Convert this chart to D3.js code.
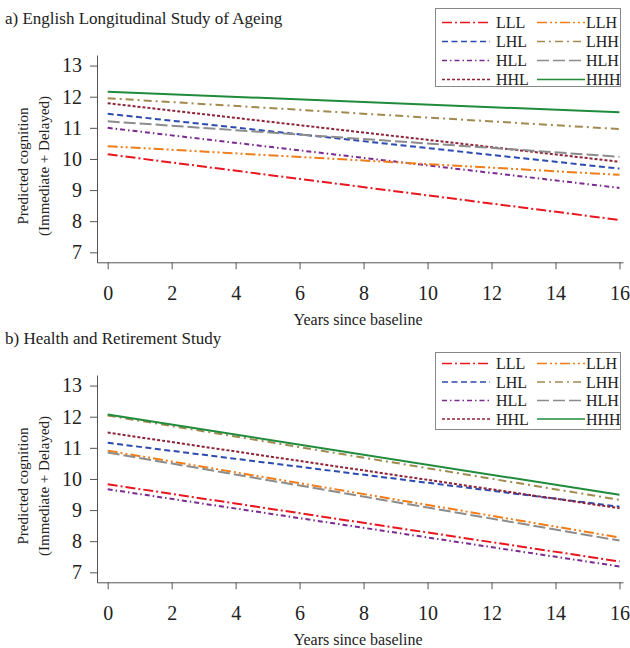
<!DOCTYPE html>
<html>
<head>
<meta charset="utf-8">
<script src="https://cdn.jsdelivr.net/npm/d3@7"></script>
<style>
  body { margin: 0; background: #fff; }
  text { font-family: "Liberation Serif", "Times New Roman", serif; fill: #222; }
  .axis path, .axis line { stroke: #555; stroke-width: 1; }
</style>
</head>
<body>
<script>
// group codes, legend order: first column then second column
const groups = ["LLL", "LHL", "HLL", "HHL", "LLH", "LHH", "HLH", "HHH"];
const years = [0, 16];
const xTicks = [0, 2, 4, 6, 8, 10, 12, 14, 16];
const yTicks = [7, 8, 9, 10, 11, 12, 13];

// predicted cognition at baseline and at year 16
const elsaAt0 = [10.15, 11.45, 11.00, 11.79, 10.41, 11.95, 11.21, 12.16];
const elsaAt16 = [8.04, 9.69, 9.07, 9.91, 9.49, 10.96, 10.07, 11.50];
const hrsAt0 = [9.83, 11.16, 9.67, 11.49, 10.91, 12.04, 10.85, 12.07];
const hrsAt16 = [7.35, 9.11, 7.19, 9.06, 8.12, 9.33, 8.02, 9.49];

const colors = {
  LLL: "#e8161e", LHL: "#2b4bb0", HLL: "#7b2b8f", HHL: "#8e2338",
  LLH: "#f07d1a", LHH: "#a08a4f", HLH: "#8c8c8c", HHH: "#1f8b3b"
};
const dashes = {
  LLL: "10,3,2,3", LHL: "6,3.5", HLL: "5,3,1.5,3", HHL: "3,2",
  LLH: "10,3,2,3,2,3", LHH: "8,4,2,4", HLH: "12,4", HHH: null
};

const W = 630, H = 648;
const serif = "'Liberation Serif', 'Times New Roman', serif";

const svg = d3.select("body").append("svg")
  .attr("width", W)
  .attr("height", H)
  .attr("font-family", serif);

const panels = [
  { title: "a) English Longitudinal Study of Ageing", top: 0, at0: elsaAt0, at16: elsaAt16,
    legendY: 8, legendH: 78, rowY: 14.5, rowStep: 19 },
  { title: "b) Health and Retirement Study", top: 320, at0: hrsAt0, at16: hrsAt16,
    legendY: 352, legendH: 77, rowY: 11.5, rowStep: 18.5 }
];

panels.forEach(function(p) {
  const g = svg.append("g").attr("transform", "translate(0," + p.top + ")");

  const x = d3.scaleLinear().domain([-0.334, 16.11]).range([97, 623]);
  const y = d3.scaleLinear().domain([6.68, 13.34]).range([262.3, 55]);

  //title
  g.append("text")
    .attr("x", 5)
    .attr("y", 24)
    .style("font-size", "17px")
    .text(p.title);

  //x axis
  g.append("g")
    .attr("class", "axis")
    .attr("transform", "translate(0," + y(6.68) + ")")
    .call(d3.axisBottom(x).tickValues(xTicks).tickFormat(d3.format("d"))
      .tickSize(7).tickSizeOuter(0).tickPadding(17))
    .attr("font-family", serif)
    .attr("font-size", 20);

  //y axis
  g.append("g")
    .attr("class", "axis")
    .attr("transform", "translate(" + x(-0.334) + ",0)")
    .call(d3.axisLeft(y).tickValues(yTicks).tickFormat(d3.format("d"))
      .tickSize(7).tickSizeOuter(0).tickPadding(8))
    .attr("font-family", serif)
    .attr("font-size", 20);

  //x axis title
  g.append("text")
    .attr("x", 358)
    .attr("y", 325)
    .attr("text-anchor", "middle")
    .style("font-size", "16px")
    .text("Years since baseline");

  //y axis title, two lines
  const yt = g.append("text")
    .attr("transform", "translate(0,166) rotate(-90)")
    .attr("text-anchor", "middle")
    .style("font-size", "15px");
  yt.append("tspan").attr("x", 0).attr("y", 23).attr("dominant-baseline", "central")
    .text("Predicted cognition");
  yt.append("tspan").attr("x", 0).attr("y", 44).attr("dominant-baseline", "central")
    .text("(Immediate + Delayed)");

  //lines
  const series = groups.map((k, i) => ({
    key: k,
    pts: [[years[0], p.at0[i]], [years[1], p.at16[i]]]
  }));
  const line = d3.line().x(d => x(d[0])).y(d => y(d[1]));
  g.append("g")
    .selectAll("path")
    .data(series)
    .enter().append("path")
    .attr("d", d => line(d.pts))
    .attr("fill", "none")
    .attr("stroke", d => colors[d.key])
    .attr("stroke-width", 2)
    .attr("stroke-dasharray", d => dashes[d.key]);

  //legend
  const lg = g.append("g").attr("transform", "translate(0," + (p.legendY - p.top) + ")");
  lg.append("rect")
    .attr("x", 435.5)
    .attr("y", 0.5)
    .attr("width", 185)
    .attr("height", p.legendH)
    .attr("fill", "#fff")
    .attr("stroke", "#888");
  const item = lg.selectAll(".item")
    .data(groups)
    .enter().append("g")
    .attr("transform", (d, i) =>
      "translate(" + (i < 4 ? 442 : 537) + "," + (p.rowY + (i % 4) * p.rowStep) + ")");
  item.append("line")
    .attr("x1", 0).attr("x2", 48)
    .attr("stroke", d => colors[d])
    .attr("stroke-width", 1.5)
    .attr("stroke-dasharray", d => dashes[d]);
  item.append("text")
    .attr("x", (d, i) => i < 4 ? 54 : 49)
    .attr("dy", "0.35em")
    .style("font-size", "16px")
    .text(d => d);
});
</script>
</body>
</html>
